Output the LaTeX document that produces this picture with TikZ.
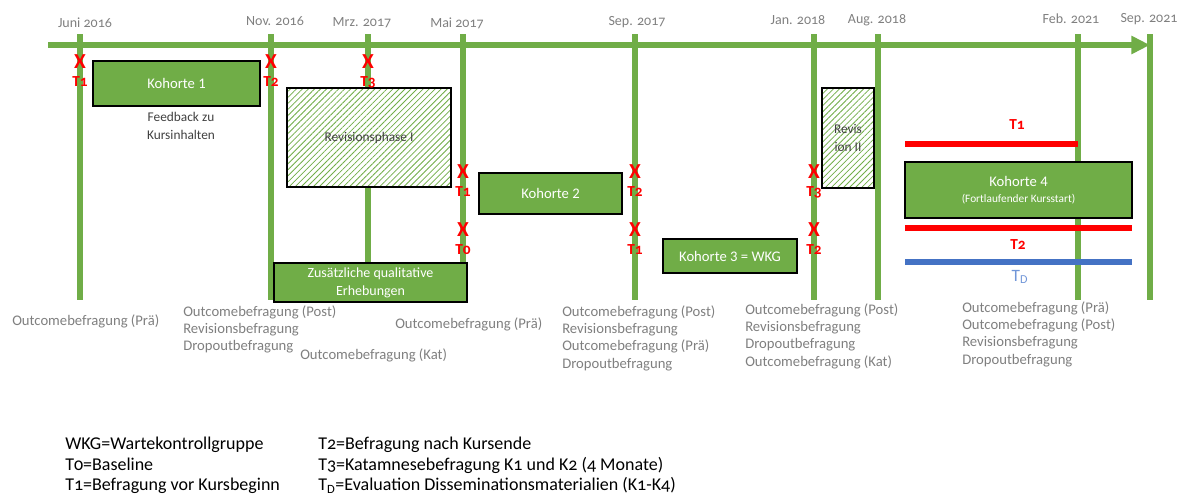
\documentclass[tikz,border=0pt]{standalone}
\usepackage{fontspec}
\setmainfont{Carlito}[Numbers=OldStyle]
\newfontfamily\liningfont{Carlito}
\usepackage{tikz}
\usetikzlibrary{arrows.meta,patterns.meta,positioning}
\definecolor{kgreen}{HTML}{70AD47}
\definecolor{kred}{HTML}{FF0000}
\definecolor{kblue}{HTML}{4472C4}
\definecolor{klightblue}{HTML}{7196D8}
\definecolor{kgray}{HTML}{7F7F7F}
\definecolor{kdark}{HTML}{404040}

\begin{document}
\begin{tikzpicture}[x=0.75pt, y=-0.75pt,
    timeline/.style={draw=kgreen, line width=4.5pt, -{Triangle[length=14pt, width=13pt]}},
    dateline/.style={draw=kgreen, line width=4pt},
    datelabel/.style={text=kgray, font=\fontsize{10.5}{12}\selectfont},
    cohort/.style={draw=black, line width=1pt, fill=kgreen, text=white, align=center, inner sep=0pt,
        font=\liningfont\fontsize{11}{13}\selectfont},
    revbox/.style={draw=black, line width=1pt, preaction={fill=white},
        pattern={Lines[angle=45, distance=3.2pt, line width=0.6pt]}, pattern color=kgreen,
        text=kdark, align=center, inner sep=0pt, font=\fontsize{10}{13}\selectfont},
    xmark/.style={text=kred, font=\bfseries\fontsize{16}{16}\selectfont, inner sep=0pt},
    tlabel/.style={text=kred, font=\bfseries\fontsize{11.5}{12}\selectfont, inner sep=0pt},
    period/.style={line width=4.5pt},
    outcome/.style={anchor=north west, inner sep=0pt, align=left, text=kgray,
        font=\fontsize{11}{13.1}\selectfont},
    legend/.style={anchor=north west, inner sep=0pt, align=left, text=black,
        font=\fontsize{13.5}{15.4}\selectfont}]
    \useasboundingbox (0,0) rectangle (1191,500);

    % Zeitachse
    \coordinate (start) at (48,45);
    \coordinate (end) at (1150,45);
    \draw[timeline] (start) -- (end);

    % Zeitpunkte
    \foreach \name/\x/\lx/\ly/\bot/\date in {jun16/80/85/23/300/Juni 2016, nov16/271/275/21/300/Nov. 2016,
        mrz17/368/362/23/263/Mrz. 2017, mai17/463/457/23/300/Mai 2017, sep17/635/637/22/300/Sep. 2017,
        jan18/814/798/20/300/Jan. 2018, aug18/878/877/20/300/Aug. 2018, feb21/1078/1071/19/300/Feb. 2021,
        sep21/1150/1149/19/300/Sep. 2021}{
        \coordinate (\name top) at (\x,34);
        \coordinate (\name bot) at (\x,\bot);
        \draw[dateline] (\name top) -- (\name bot);
        \node[datelabel] (\name lbl) at (\lx,\ly) {\date};
    }

    % Phasen
    \node[cohort, minimum width=125.25pt, minimum height=33.75pt] (k1) at (176.5,83.5) {Kohorte 1};
    \node[text=kdark, align=center, font=\fontsize{10}{13.5}\selectfont] (feedback) at (181,126) {Feedback zu\\Kursinhalten};
    \node[revbox, minimum width=123pt, minimum height=74.25pt] (rev1) at (369,137.5) {Revisionsphase I};
    \node[cohort, minimum width=144.75pt, minimum height=29.25pt, font=\liningfont\fontsize{10.5}{13.5}\selectfont]
        (quali) at (370.5,282.5) {Zusätzliche qualitative\\Erhebungen};
    \node[cohort, minimum width=107.25pt, minimum height=30.75pt] (k2) at (550.5,193.5) {Kohorte 2};
    \node[cohort, minimum width=100.5pt, minimum height=25.5pt] (k3) at (730,256) {Kohorte 3 = WKG};
    \node[revbox, minimum width=39pt, minimum height=75pt] (rev2) at (848,138) {Revis\\ion II};
    \node[cohort, minimum width=170.25pt, minimum height=42pt] (k4) at (1018.5,190)
        {Kohorte 4\\[-1pt]{\fontsize{8.5}{10}\selectfont(Fortlaufender Kursstart)}};

    % Messzeitpunkte
    \foreach \x/\y/\t in {80/62/1, 271/62/2, 368/62/3, 463/172/1, 463/230/0,
        635/172/2, 635/230/1, 814/172/3, 814/230/2}{
        \node[xmark] (m-\x-\y) at (\x,\y) {X};
        \node[tlabel] (t-\x-\y) at (\x,\y+20) {T\t};
    }

    % Kohorte 4: fortlaufende Befragungen
    \coordinate (t1a) at (905,144);
    \coordinate (t1b) at (1078,144);
    \coordinate (t2a) at (905,228);
    \coordinate (t2b) at (1132,228);
    \coordinate (tda) at (905,262);
    \coordinate (tdb) at (1132,262);
    \draw[period, kred] (t1a) -- (t1b);
    \draw[period, kred] (t2a) -- (t2b);
    \draw[period, kblue] (tda) -- (tdb);
    \node[tlabel] (t1lbl) at (1017,125) {T1};
    \node[tlabel] (t2lbl) at (1018,245) {T2};
    \node[text=klightblue, font=\fontsize{13}{14}\selectfont, inner sep=0pt] (tdlbl) at (1020,277) {T\textsubscript{D}};

    % Befragungen
    \node[outcome] (o1) at (12,314) {Outcomebefragung (Prä)};
    \node[outcome] (o2) at (183,305) {Outcomebefragung (Post)\\Revisionsbefragung\\Dropoutbefragung};
    \node[outcome] (o3) at (300,348) {Outcomebefragung (Kat)};
    \node[outcome] (o4) at (395,317) {Outcomebefragung (Prä)};
    \node[outcome] (o5) at (562,305) {Outcomebefragung (Post)\\Revisionsbefragung\\Outcomebefragung (Prä)\\Dropoutbefragung};
    \node[outcome] (o6) at (745,303) {Outcomebefragung (Post)\\Revisionsbefragung\\Dropoutbefragung\\Outcomebefragung (Kat)};
    \node[outcome] (o7) at (962,301) {Outcomebefragung (Prä)\\Outcomebefragung (Post)\\Revisionsbefragung\\Dropoutbefragung};

    % Legende
    \node[legend] (leg1) at (65,437) {WKG=Wartekontrollgruppe\\T0=Baseline\\T1=Befragung vor Kursbeginn};
    \node[legend] (leg2) at (318,437) {T2=Befragung nach Kursende\\T3=Katamnesebefragung K1 und K2 (4 Monate)\\T\textsubscript{D}=Evaluation Disseminationsmaterialien (K1-K4)};
\end{tikzpicture}
\end{document}
